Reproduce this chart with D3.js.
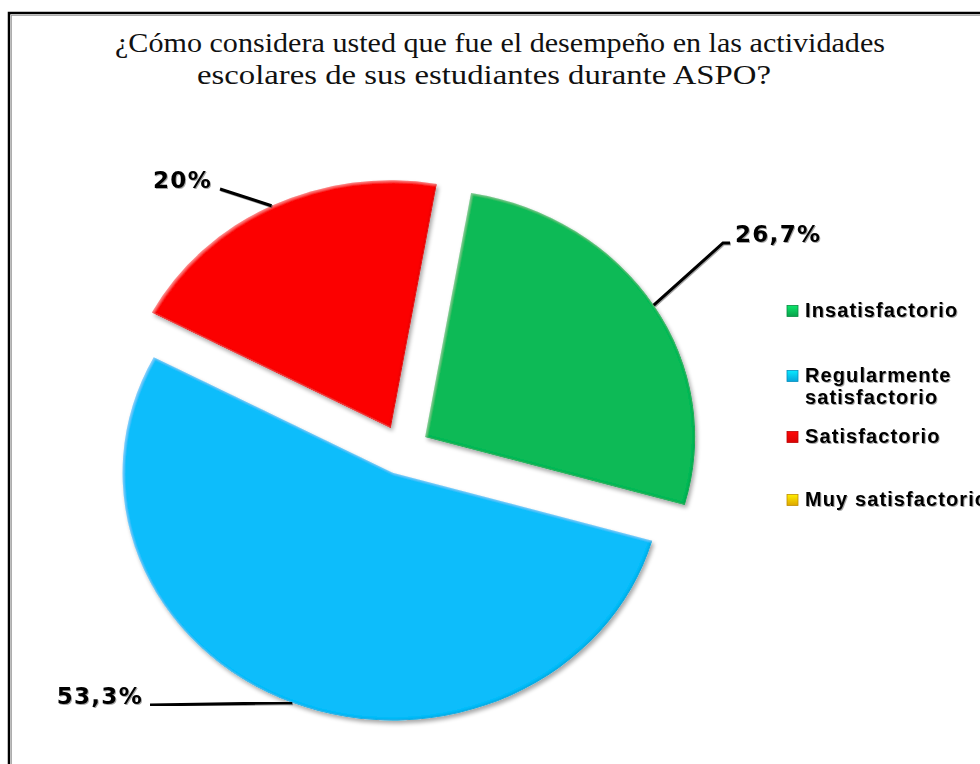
<!DOCTYPE html>
<html><head><meta charset="utf-8">
<script src="https://cdn.jsdelivr.net/npm/d3@7"></script>
<style>body{margin:0;background:#fff;overflow:hidden} svg{display:block}</style>
</head><body>
<script>
// ---- data ----
const titleLines = ["¿Cómo considera usted que fue el desempeño en las actividades",
                    "escolares de sus estudiantes  durante  ASPO?"];
const categories = ["Insatisfactorio", "Regularmente satisfactorio", "Satisfactorio", "Muy satisfactorio"];
const values = [26.7, 53.3, 20, 0];
const legendLines = [["Insatisfactorio"], ["Regularmente", "satisfactorio"], ["Satisfactorio"], ["Muy satisfactorio"]];

// ---- styles / layout ----
const palette = ["#0ABA56", "#07BDFB", "#FC0505", "#FFC000"];
const W = 980, H = 764;
const cx = 402.5, cy = 450, R = 247.7, sx = 1.09, explode = 24.5;
const startDeg = 9.8;

const svg = d3.select("body").append("svg").attr("width", W).attr("height", H);
const defs = svg.append("defs");

// slice filter: drop shadow + subtle bevel edges
const f = defs.append("filter").attr("id", "slice").attr("x", "-10%").attr("y", "-10%").attr("width", "130%").attr("height", "130%");
f.append("feGaussianBlur").attr("in", "SourceAlpha").attr("stdDeviation", 2).attr("result", "b");
f.append("feOffset").attr("in", "b").attr("dx", 1.5).attr("dy", 2.5).attr("result", "o");
f.append("feComponentTransfer").attr("in", "o").attr("result", "sh").append("feFuncA").attr("type", "linear").attr("slope", 0.35);
f.append("feGaussianBlur").attr("in", "SourceAlpha").attr("stdDeviation", 1).attr("result", "ib");
f.append("feOffset").attr("in", "ib").attr("dx", 1.2).attr("dy", 1.2).attr("result", "ibh");
f.append("feComposite").attr("in", "SourceAlpha").attr("in2", "ibh").attr("operator", "arithmetic").attr("k2", 1).attr("k3", -1).attr("result", "hiEdge");
f.append("feFlood").attr("flood-color", "#fff").attr("flood-opacity", 0.28).attr("result", "white");
f.append("feComposite").attr("in", "white").attr("in2", "hiEdge").attr("operator", "in").attr("result", "hi");
f.append("feOffset").attr("in", "ib").attr("dx", -1.2).attr("dy", -1.2).attr("result", "ibd");
f.append("feComposite").attr("in", "SourceAlpha").attr("in2", "ibd").attr("operator", "arithmetic").attr("k2", 1).attr("k3", -1).attr("result", "dkEdge");
f.append("feFlood").attr("flood-color", "#000").attr("flood-opacity", 0.28).attr("result", "black");
f.append("feComposite").attr("in", "black").attr("in2", "dkEdge").attr("operator", "in").attr("result", "dk");
const fm = f.append("feMerge");
["sh", "SourceGraphic", "hi", "dk"].forEach(n => fm.append("feMergeNode").attr("in", n));

// text shadow
const ts = defs.append("filter").attr("id", "tshadow").attr("x", "-5%").attr("y", "-20%").attr("width", "115%").attr("height", "150%");
ts.append("feDropShadow").attr("dx", 1).attr("dy", 1).attr("stdDeviation", 0.7).attr("flood-color", "#000").attr("flood-opacity", 0.35);

// frame
svg.append("rect").attr("x", 9).attr("y", 13).attr("width", 1100).attr("height", 900)
  .attr("fill", "none").attr("stroke", "#000").attr("stroke-width", 2.5);
svg.append("rect").attr("x", 11.5).attr("y", 15.5).attr("width", 1100).attr("height", 900)
  .attr("fill", "none").attr("stroke", "#999").attr("stroke-width", 0.8);

// title
const titleX = [115, 197], titleY = [52, 84], titleLen = [770, 574];
svg.selectAll("text.title").data(titleLines).join("text").attr("class", "title")
  .attr("x", (d, i) => titleX[i]).attr("y", (d, i) => titleY[i])
  .attr("textLength", (d, i) => titleLen[i]).attr("lengthAdjust", "spacingAndGlyphs")
  .attr("font-family", "'Liberation Serif', 'DejaVu Serif', serif").attr("font-size", 28)
  .attr("fill", "#111").text(d => d);

// pie
const color = d3.scaleOrdinal(categories, palette);
const a0 = startDeg * Math.PI / 180;
const pie = d3.pie().sort(null).value(d => d.v).startAngle(a0).endAngle(a0 + 2 * Math.PI);
const arcs = pie(categories.map((c, i) => ({ c, v: values[i] })));
const arc = d3.arc().innerRadius(0).outerRadius(R);

function offsetOf(d) {
  const m = (d.startAngle + d.endAngle) / 2;
  return [cx + sx * explode * Math.sin(m), cy - explode * Math.cos(m)];
}
function outerPoint(d) {
  const m = (d.startAngle + d.endAngle) / 2;
  const [ox, oy] = offsetOf(d);
  return [ox + sx * R * Math.sin(m), oy - R * Math.cos(m)];
}

const shown = arcs.filter(d => d.data.v > 0);
svg.append("g").selectAll("path").data(shown).join("path")
  .attr("transform", d => { const [x, y] = offsetOf(d); return `translate(${x},${y}) scale(${sx},1)`; })
  .attr("d", arc).attr("fill", d => color(d.data.c)).attr("filter", "url(#slice)");

// data labels with leader lines
const fmt = v => (Number.isInteger(v) ? String(v) : v.toFixed(1).replace(".", ",")) + "%";
const labelLayout = {
  "Insatisfactorio": { pts: [[723, 243], [730, 243]], tx: 735, ty: 242, anchor: "start" },
  "Regularmente satisfactorio": { pts: [[150, 705]], tx: 143, ty: 704, anchor: "end" },
  "Satisfactorio": { pts: [[220, 189]], tx: 212, ty: 188, anchor: "end" }
};
const lg = svg.append("g");
shown.forEach(d => {
  const L = labelLayout[d.data.c];
  if (!L) return;
  const p0 = outerPoint(d);
  lg.append("path").attr("d", d3.line()([p0, ...L.pts]))
    .attr("fill", "none").attr("stroke", "#000").attr("stroke-width", 3).attr("filter", "url(#tshadow)");
  lg.append("text").attr("x", L.tx).attr("y", L.ty).attr("text-anchor", L.anchor)
    .attr("font-family", "'DejaVu Sans', Verdana, sans-serif").attr("font-weight", "bold")
    .attr("font-size", 23).attr("letter-spacing", 1.3).attr("fill", "#000")
    .attr("filter", "url(#tshadow)").text(fmt(d.data.v));
});

// legend
const legendBase = [317, 382, 443, 506];
const leg = svg.append("g");
categories.forEach((c, i) => {
  const base = legendBase[i];
  const gid = "lgrad" + i;
  const gr = defs.append("linearGradient").attr("id", gid).attr("x1", 0).attr("y1", 0).attr("x2", 0).attr("y2", 1);
  gr.append("stop").attr("offset", 0).attr("stop-color", d3.color(color(c)).brighter(0.6));
  gr.append("stop").attr("offset", 1).attr("stop-color", d3.color(color(c)).darker(0.4));
  leg.append("rect").attr("x", 787).attr("y", base - 11.5).attr("width", 11).attr("height", 11)
    .attr("fill", `url(#${gid})`).attr("stroke", d3.color(color(c)).darker(0.8)).attr("stroke-width", 0.8);
  const t = leg.append("text").attr("x", 805).attr("y", base)
    .attr("font-family", "'Liberation Sans', Arial, sans-serif").attr("font-weight", "bold")
    .attr("font-size", 20).attr("letter-spacing", 1.1).attr("fill", "#000").attr("filter", "url(#tshadow)");
  legendLines[i].forEach((ln, j) => t.append("tspan").attr("x", 805).attr("dy", j === 0 ? 0 : 22).text(ln));
});
</script>
</body></html>
